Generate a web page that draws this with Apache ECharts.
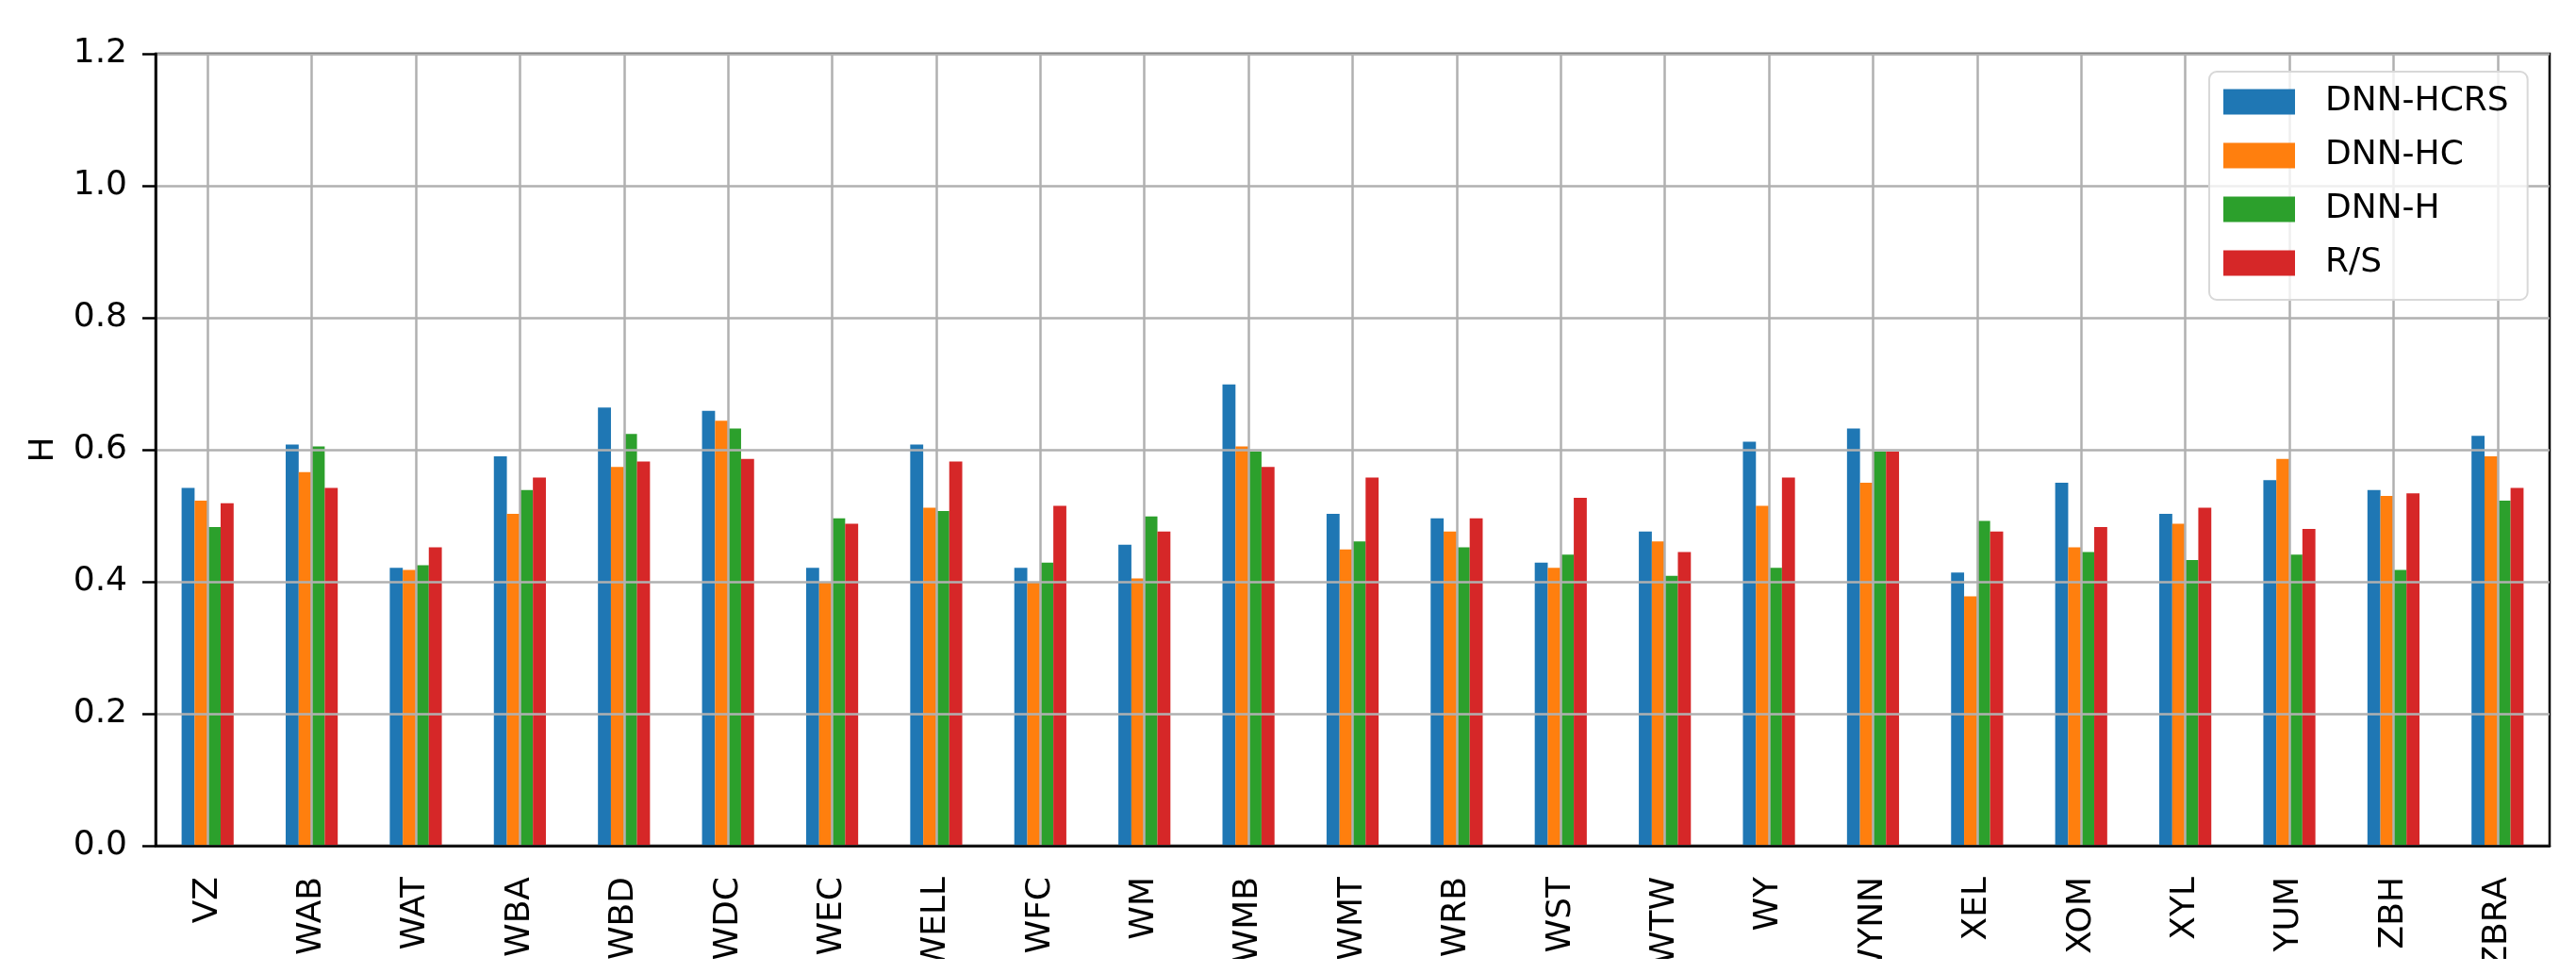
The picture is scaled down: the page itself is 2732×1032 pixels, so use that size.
<!DOCTYPE html>
<html>
<head>
<meta charset="utf-8">
<script src="https://cdn.jsdelivr.net/npm/echarts@6/dist/echarts.min.js"></script>
<style>
  html, body { margin: 0; padding: 0; background: #fff; overflow: hidden; }
  #chart { width: 2732px; height: 1032px; }
</style>
</head>
<body>
<div id="chart"></div>
<script>
const categories = ['VZ', 'WAB', 'WAT', 'WBA', 'WBD', 'WDC', 'WEC', 'WELL', 'WFC', 'WM', 'WMB', 'WMT',
  'WRB', 'WST', 'WTW', 'WY', 'WYNN', 'XEL', 'XOM', 'XYL', 'YUM', 'ZBH', 'ZBRA']
const seriesNames = ['DNN-HCRS', 'DNN-HC', 'DNN-H', 'R/S']
const colors = ['#1f77b4', '#ff7f0e', '#2ca02c', '#d62728']

const dnnHcrs = [0.542, 0.608, 0.421, 0.590, 0.664, 0.659, 0.421, 0.608, 0.421, 0.456, 0.699, 0.503,
  0.496, 0.429, 0.476, 0.612, 0.632, 0.414, 0.550, 0.503, 0.554, 0.539, 0.621]
const dnnHc = [0.523, 0.566, 0.418, 0.503, 0.574, 0.644, 0.400, 0.512, 0.400, 0.405, 0.605, 0.449,
  0.476, 0.421, 0.461, 0.515, 0.550, 0.378, 0.452, 0.488, 0.586, 0.530, 0.590]
const dnnH = [0.483, 0.605, 0.425, 0.539, 0.624, 0.632, 0.496, 0.507, 0.429, 0.499, 0.597, 0.461,
  0.452, 0.441, 0.409, 0.421, 0.597, 0.492, 0.445, 0.433, 0.441, 0.418, 0.523]
const rs = [0.519, 0.542, 0.452, 0.558, 0.582, 0.586, 0.488, 0.582, 0.515, 0.476, 0.574, 0.558,
  0.496, 0.527, 0.445, 0.558, 0.597, 0.476, 0.483, 0.512, 0.480, 0.534, 0.542]
const yTicks = [0, 0.2, 0.4, 0.6, 0.8, 1.0, 1.2]

const font = 'DejaVu Sans'
const seriesData = [dnnHcrs, dnnHc, dnnH, rs]

const chart = echarts.init(document.getElementById('chart'))
chart.setOption({
  animation: false,
  backgroundColor: '#fff',
  textStyle: { fontFamily: font },
  grid: {
    left: 165, right: 28, top: 57, bottom: 135,
    outerBoundsMode: 'none',
    show: true, borderColor: '#000', borderWidth: 2.5, backgroundColor: 'transparent'
  },
  // the original figure is cut off just under the tick labels
  graphic: [{
    type: 'rect', z: 100,
    shape: { x: 0, y: 1017, width: 2732, height: 15 },
    style: { fill: '#fff' }
  }],
  legend: {
    orient: 'vertical',
    left: 2343, top: 76,
    padding: [12, 20, 19, 15],
    itemWidth: 76, itemHeight: 27, itemGap: 17,
    backgroundColor: 'rgba(255,255,255,0.8)',
    borderColor: '#d8d8d8', borderWidth: 2, borderRadius: 8,
    icon: 'rect',
    data: seriesNames,
    textStyle: { fontFamily: font, fontSize: 36, color: '#000', lineHeight: 40, padding: [0, 0, 0, 27] }
  },
  xAxis: {
    type: 'category',
    data: categories,
    z: 3,
    axisLine: { lineStyle: { color: '#000', width: 2.5 } },
    axisTick: { alignWithLabel: true, length: 14, lineStyle: { color: '#000', width: 2.5 } },
    splitLine: { show: true, alignWithLabel: true, lineStyle: { color: '#b0b0b0', width: 2.5 } },
    axisLabel: { rotate: 90, fontSize: 36, color: '#000', fontFamily: font, margin: 33, interval: 0 }
  },
  yAxis: {
    type: 'value',
    min: 0, max: 1.2, interval: 0.2,
    z: 3,
    name: 'H',
    nameLocation: 'middle',
    nameRotate: 90,
    nameGap: 100,
    nameTextStyle: { fontSize: 36, color: '#000', fontFamily: font },
    axisLine: { show: true, lineStyle: { color: '#000', width: 2.5 } },
    axisTick: { show: true, length: 14, lineStyle: { color: '#000', width: 2.5 } },
    splitLine: { show: true, lineStyle: { color: '#b0b0b0', width: 2.5 } },
    axisLabel: {
      fontSize: 36, color: '#000', fontFamily: font, margin: 30,
      formatter: v => yTicks.includes(+v.toFixed(1)) ? v.toFixed(1) : ''
    }
  },
  series: seriesNames.map((name, i) => ({
    name: name,
    type: 'bar',
    data: seriesData[i],
    barWidth: '12.5%',
    barGap: '0%',
    itemStyle: { color: colors[i] },
    z: 2
  }))
})
</script>
</body>
</html>
